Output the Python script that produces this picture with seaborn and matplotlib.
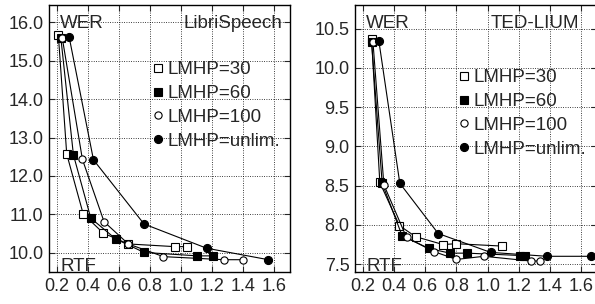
import matplotlib
matplotlib.use("Agg")
import matplotlib.pyplot as plt
from matplotlib.lines import Line2D
import seaborn as sns
import pandas as pd

# -------------------------------
# Data
# -------------------------------
labels = ["LMHP=30", "LMHP=60", "LMHP=100", "LMHP=unlim."]

# LibriSpeech: RTF / WER
ls_rtf_30 = [0.21, 0.264, 0.37, 0.50, 0.66, 0.96, 1.04]
ls_wer_30 = [15.67, 12.57, 11.01, 10.51, 10.23, 10.16, 10.16]
ls_rtf_60 = [0.226, 0.307, 0.419, 0.579, 0.761, 1.105, 1.205]
ls_wer_60 = [15.60, 12.55, 10.90, 10.36, 10.01, 9.92, 9.92]
ls_rtf_100 = [0.235, 0.365, 0.504, 0.66, 0.886, 1.276, 1.40]
ls_wer_100 = [15.60, 12.43, 10.81, 10.23, 9.90, 9.82, 9.82]
ls_rtf_unl = [0.279, 0.436, 0.761, 1.163, 1.561]
ls_wer_unl = [15.63, 12.42, 10.75, 10.12, 9.82]

# TED-LIUM: RTF / WER
ted_rtf_30 = [0.256, 0.309, 0.435, 0.538, 0.713, 0.80, 1.093]
ted_wer_30 = [10.37, 8.54, 7.99, 7.85, 7.75, 7.76, 7.73]
ted_rtf_60 = [0.256, 0.324, 0.452, 0.623, 0.758, 0.869, 1.21, 1.236]
ted_wer_60 = [10.33, 8.53, 7.86, 7.70, 7.64, 7.64, 7.61, 7.61]
ted_rtf_100 = [0.265, 0.335, 0.48, 0.655, 0.80, 0.976, 1.275, 1.335]
ted_wer_100 = [10.33, 8.51, 7.84, 7.66, 7.56, 7.60, 7.54, 7.54]
ted_rtf_unl = [0.303, 0.437, 0.683, 1.018, 1.38, 1.664]
ted_wer_unl = [10.34, 8.53, 7.89, 7.65, 7.60, 7.60]

ls_yticks = [10.0, 11.0, 12.0, 13.0, 14.0, 15.0, 16.0]
ted_yticks = [7.5, 8.0, 8.5, 9.0, 9.5, 10.0, 10.5]
xticks = [0.2, 0.4, 0.6, 0.8, 1.0, 1.2, 1.4, 1.6]

# marker style per series: (marker, facecolor, size)
styles = [("s", "white", 5.8), ("s", "black", 5.8), ("o", "white", 5.2), ("o", "black", 5.8)]

sns.set_style("ticks")
plt.rcParams["font.family"] = ["Liberation Sans", "DejaVu Sans"]
FS = 13.5
TFS = 13

fig = plt.figure(figsize=(5.95, 3.04), dpi=100)
ax1 = fig.add_axes([49 / 595, 32 / 304, 241 / 595, 267 / 304])
ax2 = fig.add_axes([355 / 595, 32 / 304, 242 / 595, 267 / 304])


def draw(ax, series, ylim, yticks):
    for (rtf, wer), (m, fc, ms) in zip(series, styles):
        df = pd.DataFrame({"RTF": rtf, "WER": wer})
        sns.lineplot(data=df, x="RTF", y="WER", ax=ax, sort=False, color="black",
                     lw=0.8, marker=m, markerfacecolor=fc, markeredgecolor="black",
                     markeredgewidth=0.8, markersize=ms)
    ax.set_xlim(0.15, 1.7)
    ax.set_ylim(*ylim)
    ax.set_xticks(xticks)
    ax.set_xticklabels([f"{t:.1f}" for t in xticks])
    ax.set_yticks(yticks)
    ax.set_yticklabels([f"{t:.1f}" for t in yticks])
    ax.set_xlabel("")
    ax.set_ylabel("")
    ax.grid(True, color="black", linestyle=(0, (1, 1.8)), linewidth=0.6)
    ax.tick_params(direction="in", top=True, right=True, length=4, width=0.8,
                   labelsize=TFS, pad=4)
    for sp in ax.spines.values():
        sp.set_linewidth(1.0)
        sp.set_color("black")
    ax.text(0.046, 0.914, "WER", transform=ax.transAxes, fontsize=FS, va="baseline")
    ax.text(0.046, 0.004, "RTF", transform=ax.transAxes, fontsize=FS, va="baseline")
    return ax


draw(ax1, [(ls_rtf_30, ls_wer_30), (ls_rtf_60, ls_wer_60),
           (ls_rtf_100, ls_wer_100), (ls_rtf_unl, ls_wer_unl)],
     (9.5, 16.45), ls_yticks)
draw(ax2, [(ted_rtf_30, ted_wer_30), (ted_rtf_60, ted_wer_60),
           (ted_rtf_100, ted_wer_100), (ted_rtf_unl, ted_wer_unl)],
     (7.4, 10.8), ted_yticks)

ax1.text(0.970, 0.914, "LibriSpeech", transform=ax1.transAxes, fontsize=FS,
         va="baseline", ha="right")
ax2.text(0.927, 0.914, "TED-LIUM", transform=ax2.transAxes, fontsize=FS,
         va="baseline", ha="right")

handles = [Line2D([], [], linestyle="none", marker=m, markerfacecolor=fc,
                  markeredgecolor="black", markeredgewidth=0.8, markersize=ms)
           for (m, fc, ms) in styles]
for ax, top in [(ax1, 0.79), (ax2, 0.76)]:
    ax.legend(handles, labels, loc="upper left", bbox_to_anchor=(0.427, top),
              frameon=False, fontsize=FS, handlelength=0.6, handletextpad=0.22,
              labelspacing=0.36, borderaxespad=0, borderpad=0)

fig.savefig("out.png", dpi=100)
